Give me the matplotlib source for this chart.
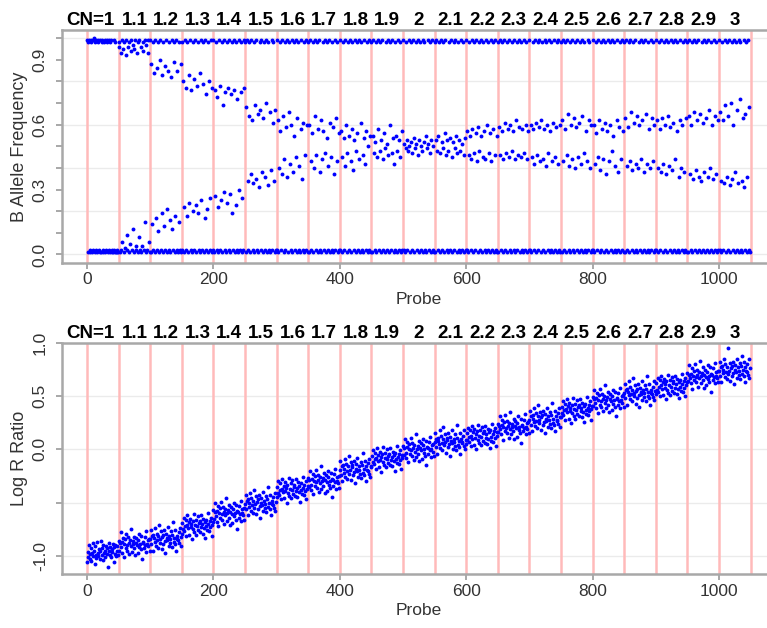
import numpy as np
import matplotlib.pyplot as plt
import matplotlib.transforms as mtransforms

plt.rcParams['font.family'] = ['Liberation Sans', 'DejaVu Sans']

# copy number of each 50-probe segment
cn_labels = ['CN=1', '1.1', '1.2', '1.3', '1.4', '1.5', '1.6', '1.7', '1.8', '1.9', '2',
             '2.1', '2.2', '2.3', '2.4', '2.5', '2.6', '2.7', '2.8', '2.9', '3']
seg_len = 50

# B allele frequency x100, one list per segment
baf_pct = [
    [99,1,98,99,2,1,99,98,1,2, 99,100,1,98,2,99,1,99,98,2, 1,99,1,98,99,2,1,98,99,1, 2,99,98,1,99,2,1,98,99,1, 2,1,99,2,1,98,1,2,1,1],
    [98,96,1,93,2,99,6,95,1,98, 3,92,99,9,2,96,1,98,5,94, 99,2,12,97,1,95,99,4,2,93, 98,1,8,99,2,96,1,4,98,94, 2,99,15,1,97,2,93,99,6,1],
    [99,1,88,14,98,2,84,1,99,17, 2,86,98,11,1,90,99,2,19,83, 1,98,13,2,87,99,1,21,85,98, 2,16,1,82,99,12,2,98,89,1, 18,99,2,85,1,15,98,2,88,1],
    [98,2,80,1,22,99,77,2,18,98, 1,83,24,99,2,76,1,20,98,81, 2,99,23,1,78,98,19,2,84,1, 99,25,2,79,98,1,17,99,74,2, 21,98,1,80,2,26,99,1,77,2],
    [99,1,76,27,98,2,73,1,22,99, 78,2,25,98,1,69,29,99,2,75, 1,24,98,77,2,99,28,1,74,98, 19,2,76,99,1,23,98,2,72,1, 30,99,2,75,98,1,26,2,77,99],
    [98,1,68,99,34,2,64,98,1,37, 99,62,2,33,98,1,69,99,35,2, 65,1,31,98,67,2,99,38,1,63, 98,2,36,99,70,1,32,98,2,66, 1,39,99,2,61,98,34,1,67,2],
    [99,2,62,1,40,98,57,2,37,99, 64,1,44,98,2,59,99,36,1,66, 98,42,2,60,99,1,38,98,55,2, 45,99,1,63,98,2,41,1,58,99, 35,2,61,98,1,46,99,2,60,1],
    [98,1,60,99,43,2,56,98,1,40, 99,64,2,46,98,1,58,99,38,2, 62,1,44,98,57,2,99,47,1,54, 98,2,41,99,61,1,45,98,2,59, 1,37,99,2,63,98,43,1,56,2],
    [99,2,57,1,45,98,54,2,41,99, 60,1,47,98,2,55,99,43,1,58, 98,39,2,53,99,1,48,98,56,2, 44,99,1,61,98,2,46,1,54,99, 42,2,57,98,1,50,99,2,55,1],
    [98,1,55,99,47,2,52,98,1,45, 99,58,2,48,98,1,53,99,44,2, 56,1,49,98,51,2,99,46,1,60, 98,2,47,99,54,1,42,98,2,55, 1,48,99,2,53,98,45,1,57,2],
    [99,2,51,1,49,98,53,2,48,99, 50,1,52,98,2,47,99,54,1,49, 98,51,2,46,99,1,53,98,50,2, 48,99,1,52,98,2,55,1,49,99, 51,2,47,98,1,53,99,2,50,1],
    [98,1,53,99,48,2,55,98,1,47, 99,52,2,49,98,1,56,99,46,2, 53,1,48,98,54,2,99,45,1,52, 98,2,49,99,55,1,47,98,2,53, 1,48,99,2,51,98,46,1,54,2],
    [99,2,57,1,46,98,55,2,44,99, 58,1,47,98,2,56,99,43,1,59, 98,48,2,55,99,1,45,98,57,2, 44,99,1,60,98,2,47,1,56,99, 43,2,58,98,1,46,99,2,55,1],
    [98,1,59,99,46,2,57,98,1,44, 99,61,2,47,98,1,58,99,45,2, 60,1,48,98,57,2,99,44,1,62, 98,2,46,99,59,1,45,98,2,58, 1,47,99,2,60,98,44,1,57,2],
    [99,2,60,1,45,98,58,2,42,99, 61,1,46,98,2,59,99,43,1,62, 98,44,2,58,99,1,41,98,60,2, 47,99,1,57,98,2,43,1,61,99, 45,2,59,98,1,42,99,2,60,1],
    [98,1,62,99,43,2,58,98,1,46, 99,65,2,41,98,1,60,99,44,2, 63,1,40,98,59,2,99,45,1,61, 98,2,42,99,64,1,47,98,2,57, 1,43,99,2,62,98,40,1,60,2],
    [99,2,60,1,42,98,56,2,45,99, 62,1,39,98,2,58,99,44,1,61, 98,37,2,57,99,1,43,98,60,2, 48,99,1,55,98,2,41,1,62,99, 38,2,59,98,1,44,99,2,57,1],
    [98,1,63,99,41,2,59,98,1,43, 99,66,2,39,98,1,61,99,42,2, 64,1,40,98,60,2,99,44,1,62, 98,2,38,99,65,1,42,98,2,58, 1,40,99,2,63,98,43,1,60,2],
    [99,2,62,1,40,98,58,2,38,99, 63,1,42,98,2,60,99,37,1,64, 98,41,2,59,99,1,39,98,61,2, 44,99,1,57,98,2,36,1,62,99, 40,2,60,98,1,38,99,2,63,1],
    [98,1,64,99,37,2,60,98,1,35, 99,66,2,39,98,1,62,99,36,2, 65,1,34,98,61,2,99,38,1,63, 98,2,36,99,67,1,40,98,2,60, 1,35,99,2,64,98,37,1,62,2],
    [99,2,66,1,34,98,62,2,33,99, 69,1,36,98,2,64,99,32,1,70, 98,35,2,60,99,1,38,98,67,2, 33,99,1,72,98,2,34,1,63,99, 31,2,65,98,1,36,99,2,68,1],
]

# log R ratio x100, one list per segment
lrr_pct = [
    [-106,-96,-101,-90,-103,-98,-93,-105,-97,-88, -100,-95,-108,-91,-99,-102,-87,-97,-100,-94, -103,-95,-86,-99,-93,-104,-90,-97,-95,-101, -91,-98,-93,-110,-95,-88,-99,-92,-101,-94, -96,-89,-106,-92,-98,-90,-100,-95,-91,-99],
    [-86,-95,-88,-78,-92,-97,-87,-83,-101,-89, -84,-93,-79,-90,-95,-82,-88,-98,-85,-91, -75,-96,-89,-86,-93,-82,-99,-88,-83,-90, -97,-85,-79,-92,-89,-94,-81,-103,-87,-88, -93,-82,-90,-77,-96,-89,-85,-91,-84,-95],
    [-84,-76,-89,-81,-95,-80,-83,-87,-74,-91, -79,-85,-93,-81,-71,-88,-84,-77,-94,-82, -80,-89,-76,-86,-97,-79,-83,-85,-73,-91, -81,-84,-88,-77,-92,-80,-68,-87,-83,-89, -76,-95,-81,-84,-85,-78,-88,-74,-91,-82],
    [-79,-69,-75,-64,-77,-72,-66,-81,-71,-62, -74,-68,-80,-65,-73,-70,-84,-67,-75,-61, -78,-71,-66,-80,-72,-63,-76,-69,-67,-78, -62,-73,-70,-79,-65,-74,-68,-83,-66,-72, -76,-60,-70,-77,-67,-73,-64,-81,-71,-68],
    [-57,-65,-59,-50,-63,-68,-58,-53,-72,-60, -55,-64,-49,-61,-66,-54,-59,-70,-56,-62, -46,-67,-60,-57,-64,-52,-71,-59,-54,-61, -69,-56,-50,-63,-60,-66,-52,-75,-58,-59, -64,-53,-61,-48,-67,-60,-56,-62,-55,-66],
    [-51,-43,-56,-48,-62,-47,-50,-54,-41,-58, -46,-52,-60,-48,-38,-55,-51,-44,-61,-49, -47,-56,-43,-53,-64,-46,-50,-52,-40,-58, -48,-51,-55,-44,-59,-47,-35,-54,-50,-56, -43,-62,-48,-51,-52,-45,-55,-41,-58,-49],
    [-45,-35,-41,-30,-43,-38,-32,-47,-37,-28, -40,-34,-46,-31,-39,-36,-50,-33,-41,-27, -44,-37,-32,-46,-38,-29,-42,-35,-33,-44, -28,-39,-36,-45,-31,-40,-34,-49,-32,-38, -42,-26,-36,-43,-33,-39,-30,-47,-37,-34],
    [-27,-35,-29,-20,-33,-38,-28,-23,-42,-30, -25,-34,-19,-31,-36,-24,-29,-40,-26,-32, -16,-37,-30,-27,-34,-22,-41,-29,-24,-31, -39,-26,-20,-33,-30,-36,-22,-45,-28,-29, -34,-23,-31,-18,-37,-30,-26,-32,-25,-36],
    [-19,-11,-24,-16,-30,-15,-18,-22,-9,-26, -14,-20,-28,-16,-6,-23,-19,-12,-29,-17, -15,-24,-11,-21,-32,-14,-18,-20,-8,-26, -16,-19,-23,-12,-27,-15,-3,-22,-18,-24, -11,-30,-16,-19,-20,-13,-23,-9,-26,-17],
    [-16,-6,-12,-1,-14,-9,-3,-18,-8,1, -11,-5,-17,-2,-10,-7,-21,-4,-12,2, -15,-8,-3,-17,-9,0,-13,-6,-4,-15, 1,-10,-7,-16,-2,-11,-5,-20,-3,-9, -13,3,-7,-14,-4,-10,-1,-18,-8,-5],
    [3,-5,1,10,-3,-8,2,7,-12,0, 5,-4,11,-1,-6,6,1,-10,4,-2, 14,-7,0,3,-4,8,-11,1,6,-1, -9,4,10,-3,0,-6,8,-15,2,1, -4,7,-1,12,-7,0,4,-2,5,-6],
    [7,15,2,10,-4,11,8,5,18,1, 13,6,-1,10,21,4,7,14,-3,9, 11,2,15,5,-6,12,8,6,18,0, 10,7,3,14,-1,11,23,4,8,2, 15,-4,10,7,6,13,3,18,0,9],
    [5,15,9,20,7,12,18,3,13,22, 10,16,4,19,11,14,0,17,9,23, 6,13,18,4,12,21,8,15,17,6, 22,11,14,5,19,10,16,1,18,12, 8,24,14,7,17,11,20,3,13,16],
    [24,16,22,31,19,14,23,28,9,21, 26,17,32,20,15,27,22,11,25,19, 35,14,21,24,17,29,10,22,27,20, 12,25,31,18,21,15,29,6,23,22, 17,28,20,33,14,21,25,19,26,15],
    [28,36,23,31,17,32,29,26,39,22, 34,27,20,31,42,25,28,35,18,30, 32,23,36,26,15,33,29,27,39,21, 31,28,24,35,20,32,44,25,29,23, 36,17,31,28,27,34,24,39,21,30],
    [30,40,34,45,32,37,43,28,38,47, 35,41,29,44,36,39,25,42,34,48, 31,38,43,29,37,46,33,40,42,31, 47,36,39,30,44,35,41,26,43,37, 33,49,39,32,42,36,45,28,38,41],
    [49,41,47,56,44,39,48,53,34,46, 51,42,57,45,40,52,47,36,50,44, 60,39,46,49,42,54,35,47,52,45, 37,50,56,43,46,40,54,31,48,47, 42,53,45,58,39,46,50,44,51,40],
    [53,61,48,56,42,57,54,51,64,47, 59,52,45,56,67,50,53,60,43,55, 57,48,61,51,40,58,54,52,64,46, 56,53,49,60,45,57,69,50,54,48, 61,42,56,53,52,59,49,64,46,55],
    [52,62,56,67,54,59,65,50,60,69, 57,63,51,66,58,61,47,64,56,70, 53,60,65,51,59,68,55,62,64,53, 69,58,61,52,66,57,63,48,65,59, 55,71,61,54,64,58,67,50,60,63],
    [72,64,70,79,67,62,71,76,57,69, 74,65,80,68,63,75,70,59,73,67, 83,62,69,72,65,77,58,70,75,68, 60,73,79,66,69,63,77,54,71,70, 65,76,68,81,62,69,73,67,74,63],
    [74,82,69,77,63,78,75,72,85,68, 80,73,66,77,95,71,74,81,64,76, 78,69,82,72,61,79,75,73,85,67, 77,74,70,81,66,78,88,71,75,69, 82,63,77,74,73,80,70,85,67,76],
]

baf_ticks = [0.0, 0.1, 0.2, 0.3, 0.4, 0.5, 0.6, 0.7, 0.8, 0.9, 1.0]
baf_ticklabels = ['0.0', '', '', '0.3', '', '', '0.6', '', '', '0.9', '']
baf_grid = [0.0, 0.2, 0.4, 0.6, 0.8, 1.0]
lrr_ticks = [-1.0, -0.5, 0.0, 0.5, 1.0]
lrr_ticklabels = ['-1.0', '', '0.0', '0.5', '1.0']
lrr_grid = [-1.0, -0.5, 0.0, 0.5]
x_ticks = [0, 200, 400, 600, 800, 1000]

baf = np.concatenate([np.array(s) for s in baf_pct]) / 100.0
lrr = np.concatenate([np.array(s) for s in lrr_pct]) / 100.0
bounds = np.arange(len(cn_labels) + 1) * seg_len
mids = bounds[:-1] + seg_len / 2.0

GREY = '#a8a8a8'
TXT = '#333333'


def panel(ax, y, ylim, ticks, ticklabels, grid, ylabel):
    ax.plot(np.arange(len(y)), y, 'o', color='#0000ff', ms=2.8, mew=0, zorder=3)
    for b in bounds:
        ax.axvline(b, color='#ffbaba', lw=1.8, zorder=1)
    for g in grid:
        ax.axhline(g, color='#ebebeb', lw=1.0, zorder=0)
    ax.set_xlim(-40, 1090)
    ax.set_ylim(*ylim)
    ax.spines['right'].set_visible(False)
    for s in ['left', 'bottom', 'top']:
        ax.spines[s].set_color(GREY)
        ax.spines[s].set_linewidth(1.8)
    ax.set_xticks(x_ticks)
    ax.set_yticks(ticks)
    ax.set_yticklabels(ticklabels, rotation=90, va='center')
    ax.tick_params(color=GREY, labelcolor=TXT, length=4, width=1.4, labelsize=12.5)
    ax.tick_params(axis='x', pad=3)
    ax.tick_params(axis='y', pad=6)
    ax.set_xlabel('Probe', fontsize=12.5, color=TXT)
    ax.xaxis.set_label_coords(0.5, -0.125)
    ax.set_ylabel(ylabel, fontsize=13, color=TXT)
    ax.yaxis.set_label_coords(-0.047, 0.5)
    trans = mtransforms.blended_transform_factory(ax.transData, ax.transAxes)
    for i, lab in enumerate(cn_labels):
        if i == 0:
            ax.text(mids[i] + 19, 1.022, lab, transform=trans, ha='right', va='baseline',
                    fontsize=13.5, fontweight='bold')
        else:
            ax.text(mids[i], 1.022, lab, transform=trans, ha='center', va='baseline',
                    fontsize=13.5, fontweight='bold')


fig = plt.figure(figsize=(7.67, 6.28), dpi=100)
ax1 = fig.add_axes([0.0805, 0.582, 0.931, 0.370])
ax2 = fig.add_axes([0.0805, 0.086, 0.931, 0.368])

panel(ax1, baf, (-0.037, 1.037), baf_ticks, baf_ticklabels, baf_grid, 'B Allele Frequency')
panel(ax2, lrr, (-1.17, 1.0), lrr_ticks, lrr_ticklabels, lrr_grid, 'Log R Ratio')

fig.savefig('out.png', dpi=100)
